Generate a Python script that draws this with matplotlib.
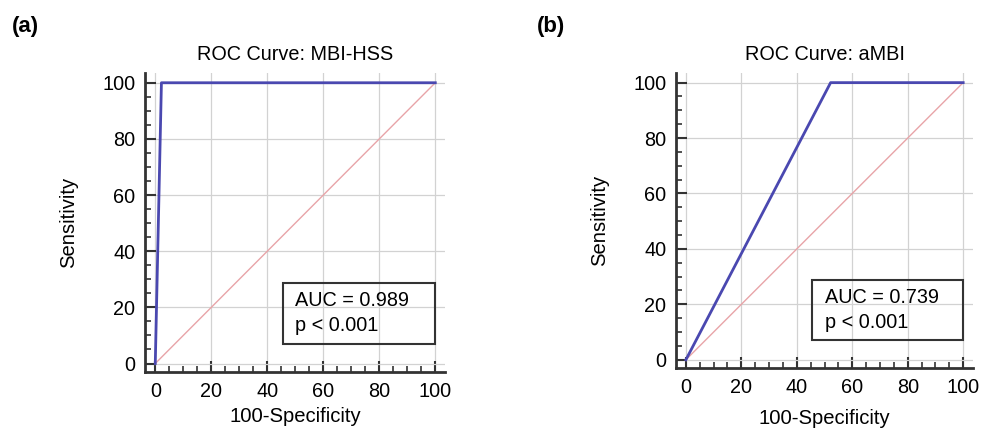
import matplotlib.pyplot as plt
from matplotlib.patches import Rectangle
from matplotlib.ticker import MultipleLocator

plt.rcParams['font.family'] = ['Liberation Sans', 'DejaVu Sans']

# ROC curve points (100-Specificity, Sensitivity)
fpr_hss = [0, 2.2, 100]
tpr_hss = [0, 100, 100]
fpr_ambi = [0, 52.2, 100]
tpr_ambi = [0, 100, 100]

panels = [
    ("(a)", "ROC Curve: MBI-HSS", fpr_hss, tpr_hss, "AUC = 0.989", "p < 0.001"),
    ("(b)", "ROC Curve: aMBI", fpr_ambi, tpr_ambi, "AUC = 0.739", "p < 0.001"),
]
axes_pos = [[0.148, 0.133, 0.306, 0.697], [0.689, 0.142, 0.303, 0.688]]
xlabel_y = [-0.118, -0.138]
letter_x = [0.012, 0.547]

fig = plt.figure(figsize=(9.81, 4.29), dpi=100)

for (letter, title, fx, ty, auc, pval), pos, xly, lx in zip(panels, axes_pos, xlabel_y, letter_x):
    ax = fig.add_axes(pos)
    ax.plot([0, 100], [0, 100], color="#e8a4a8", lw=1, zorder=2)
    ax.plot(fx, ty, color="#4a48b0", lw=2, zorder=3)

    ax.set_xlim(-3.6, 103.6)
    ax.set_ylim(-3, 103.5)
    ax.xaxis.set_major_locator(MultipleLocator(20))
    ax.yaxis.set_major_locator(MultipleLocator(20))
    ax.xaxis.set_minor_locator(MultipleLocator(5))
    ax.yaxis.set_minor_locator(MultipleLocator(5))
    ax.tick_params(which="major", direction="in", length=8, width=1.5,
                   color="#333333", labelsize=14.3, pad=7)
    ax.tick_params(which="minor", direction="in", length=4, width=1.2,
                   color="#333333")
    ax.grid(True, which="major", color="#d2d2d2", lw=0.9, zorder=0)
    for side in ["top", "right"]:
        ax.spines[side].set_visible(False)
    for side in ["left", "bottom"]:
        ax.spines[side].set_linewidth(2)
        ax.spines[side].set_color("#333333")

    ax.set_title(title, fontsize=14.3, pad=9)
    ax.set_xlabel("100-Specificity", fontsize=14.6)
    ax.set_ylabel("Sensitivity", fontsize=14.6)
    ax.xaxis.set_label_coords(0.5, xly)
    ax.yaxis.set_label_coords(-0.224, 0.5)

    ax.add_patch(Rectangle((45.5, 7), 54.5, 21.8, fill=False,
                           edgecolor="#333333", lw=1.5, zorder=4))
    ax.text(50, 22.5, auc, fontsize=14.3, va="center", ha="left", zorder=5)
    ax.text(50, 13.5, pval, fontsize=14.3, va="center", ha="left", zorder=5)

    fig.text(lx, 0.939, letter, fontsize=16, fontweight="bold",
             va="center", ha="left")

fig.savefig("out.png", dpi=100)
